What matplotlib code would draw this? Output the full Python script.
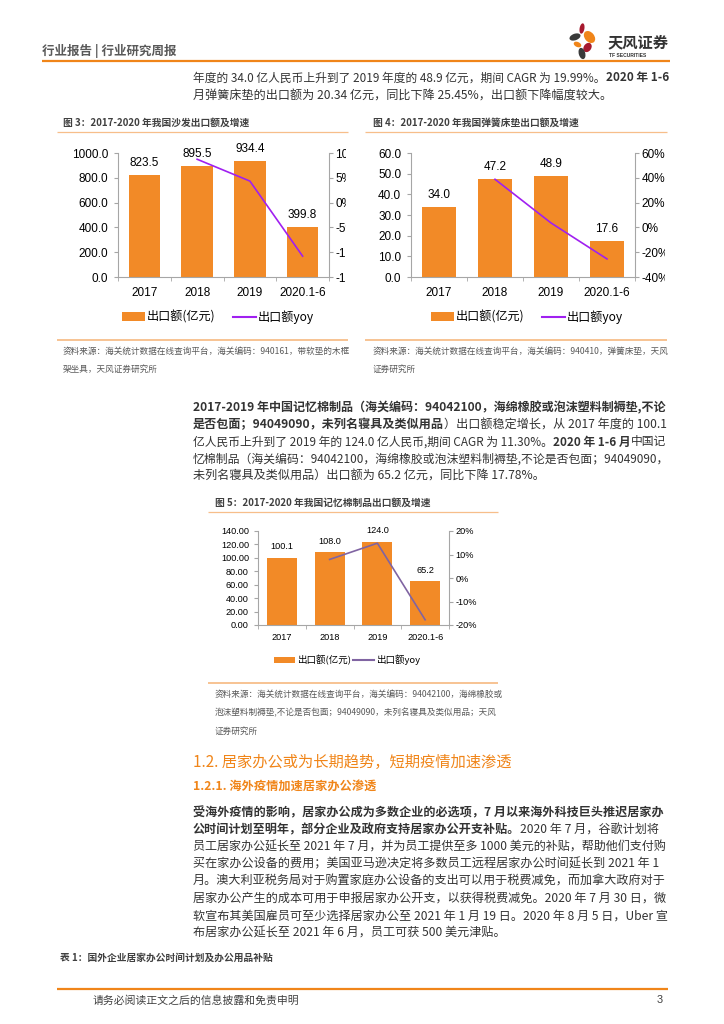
import matplotlib
matplotlib.use('Agg')
import matplotlib.pyplot as plt
from matplotlib.patches import Ellipse, Patch
from matplotlib.lines import Line2D
from matplotlib.ticker import FuncFormatter
from matplotlib.transforms import Bbox, TransformedBbox
import numpy as np

W, H = 724, 1024
CJK = ['Noto Sans CJK SC', 'DejaVu Sans']
plt.rcParams['font.family'] = ['Liberation Sans', 'Noto Sans CJK SC', 'DejaVu Sans']

# ---------------- data ----------------
categories = ['2017', '2018', '2019', '2020.1-6']
sofa_values = [823.5, 895.5, 934.4, 399.8]
sofa_yoy = [np.nan, 8.74, 4.34, -10.8]
spring_values = [34.0, 47.2, 48.9, 17.6]
spring_yoy = [np.nan, 38.8, 3.6, -25.45]
memory_values = [100.1, 108.0, 124.0, 65.2]
memory_yoy = [np.nan, 7.9, 14.8, -17.78]
bar_label = '出口额(亿元)'
line_label = '出口额yoy'

sofa_y2_ticks = [-15, -10, -5, 0, 5, 10]
spring_y2_ticks = [-40, -20, 0, 20, 40, 60]
memory_y2_ticks = [-20, -10, 0, 10, 20]

title3 = '图 3：2017-2020 年我国沙发出口额及增速'
title4 = '图 4：2017-2020 年我国弹簧床垫出口额及增速'
title5 = '图 5：2017-2020 年我国记忆棉制品出口额及增速'
source3 = ['资料来源：海关统计数据在线查询平台，海关编码：940161，带软垫的木框', '架坐具，天风证券研究所']
source4 = ['资料来源：海关统计数据在线查询平台，海关编码：940410，弹簧床垫，天风', '证券研究所']
source5 = ['资料来源：海关统计数据在线查询平台，海关编码：94042100，海绵橡胶或',
           '泡沫塑料制褥垫,不论是否包面；94049090，未列名寝具及类似用品；天风',
           '证券研究所']

para1 = [
    [("年度的 34.0 亿人民币上升到了 2019 年度的 48.9 亿元，期间 CAGR 为 19.99%。", False), ("2020 年 1-6", True)],
    [("月弹簧床垫的出口额为 20.34 亿元，同比下降 25.45%，出口额下降幅度较大。", False)],
]
para2 = [
    [("2017-2019 年中国记忆棉制品（海关编码：94042100，海绵橡胶或泡沫塑料制褥垫,不论", True)],
    [("是否包面；94049090，未列名寝具及类似用品", True), ("）出口额稳定增长，从 2017 年度的 100.1", False)],
    [("亿人民币上升到了 2019 年的 124.0 亿人民币,期间 CAGR 为 11.30%。", False), ("2020 年 1-6 月", True), ("中国记", False)],
    [("忆棉制品（海关编码：94042100，海绵橡胶或泡沫塑料制褥垫,不论是否包面；94049090，", False)],
    [("未列名寝具及类似用品）出口额为 65.2 亿元，同比下降 17.78%。", False)],
]
para3 = [
    [("受海外疫情的影响，居家办公成为多数企业的必选项，7 月以来海外科技巨头推迟居家办", True)],
    [("公时间计划至明年，部分企业及政府支持居家办公开支补贴。", True), ("2020 年 7 月，谷歌计划将", False)],
    [("员工居家办公延长至 2021 年 7 月，并为员工提供至多 1000 美元的补贴，帮助他们支付购", False)],
    [("买在家办公设备的费用；美国亚马逊决定将多数员工远程居家办公时间延长到 2021 年 1", False)],
    [("月。澳大利亚税务局对于购置家庭办公设备的支出可以用于税费减免，而加拿大政府对于", False)],
    [("居家办公产生的成本可用于申报居家办公开支，以获得税费减免。2020 年 7 月 30 日，微", False)],
    [("软宣布其美国雇员可至少选择居家办公至 2021 年 1 月 19 日。2020 年 8 月 5 日，Uber 宣", False)],
    [("布居家办公延长至 2021 年 6 月，员工可获 500 美元津贴。", False)],
]

ORANGE = '#F08519'
LIGHT_OR = '#F7BE8A'
BAR = '#F28A27'
GRAY_AX = '#A6A6A6'
TXT = '#333333'

fig = plt.figure(figsize=(W / 100, H / 100), dpi=100)
bg = fig.add_axes([0, 0, 1, 1], zorder=-5)
bg.set_xlim(0, W)
bg.set_ylim(H, 0)
bg.axis('off')
renderer = fig.canvas.get_renderer()


def hline(x0, x1, y, color, lw):
    bg.plot([x0, x1], [y, y], color=color, lw=lw, solid_capstyle='butt')


def txt(x, y, s, **kw):
    kw.setdefault('va', 'center')
    kw.setdefault('ha', 'left')
    return bg.text(x, y, s, **kw)


def rich_line(x, y, segs, size=8.7, color=TXT, maxw=476):
    def draw(sz):
        cx = x
        made = []
        for s, b in segs:
            t = txt(cx, y, s, fontsize=sz, fontweight='bold' if b else 'normal',
                    color=color, family=CJK)
            bb = t.get_window_extent(renderer=renderer)
            cx += bb.width
            made.append(t)
        return made, cx - x
    made, width = draw(size)
    if width > maxw:
        for t in made:
            t.remove()
        draw(size * maxw / width)


# ---------------- header ----------------
txt(42, 51, '行业报告 | 行业研究周报', fontsize=9, fontweight='bold', color='#595959', family=CJK)
hline(42, 670, 61, ORANGE, 1.6)
petals = [  # (cx, cy, w, h, angle, color)
    (582, 28.5, 4.8, 10.5, 10, '#A6192E'),
    (589.5, 37, 9.5, 13.5, -40, ORANGE),
    (575, 37, 11.5, 6.5, -20, '#3A3A3A'),
    (577.5, 44.5, 8, 5, 25, ORANGE),
    (587.5, 47.5, 7.5, 10, 35, '#A6192E'),
    (582, 53.5, 6.5, 11.5, -15, '#3A3A3A'),
]
for cx, cy, w, h, a, c in petals:
    bg.add_patch(Ellipse((cx, cy), w, h, angle=a, color=c, lw=0))
txt(608, 42, '天风证券', fontsize=11, fontweight='bold', color='#333333', family=CJK)
txt(609, 55.5, 'TF SECURITIES', fontsize=3.6, fontweight='bold', color='#333333')

# ---------------- paragraphs ----------------
for i, segs in enumerate(para1):
    rich_line(193, 78 + 18 * i, segs)
for i, segs in enumerate(para2):
    rich_line(193, 408 + 17 * i, segs)
for i, segs in enumerate(para3):
    rich_line(193, 813 + 17.1 * i, segs)

txt(193, 762, '1.2. 居家办公或为长期趋势，短期疫情加速渗透', fontsize=11, color=ORANGE, family=CJK)
txt(193, 787, '1.2.1. 海外疫情加速居家办公渗透', fontsize=8.8, fontweight='bold', color=ORANGE, family=CJK)
txt(60, 958, '表 1：国外企业居家办公时间计划及办公用品补贴', fontsize=7, fontweight='bold', color='#404040', family=CJK)
hline(57, 668, 989, ORANGE, 1.6)
txt(93, 1000, '请务必阅读正文之后的信息披露和免责申明', fontsize=7.8, color='#404040', family=CJK)
txt(663, 1000, '3', fontsize=7.8, color='#404040', ha='right')


# ---------------- charts ----------------
def chart(box, values, yoy, ylim, ystep, yfmt, y2ticks, line_color, barw, fs,
          lab_gap, cat_pad, ypad, clip_right, leg_xc, leg_y, leg_fs, handlelen, colsp):
    left, right, top, bottom = box
    ax = fig.add_axes([left / W, 1 - bottom / H, (right - left) / W, (bottom - top) / H])
    ax.set_facecolor('none')
    x = np.arange(len(categories))
    ax.bar(x, values, width=barw, color=BAR, zorder=2)
    for xi, v in zip(x, values):
        ax.annotate(f'{v:.1f}', (xi, v), xytext=(0, lab_gap * 0.72), textcoords='offset points',
                    ha='center', va='center', fontsize=fs, color='#000000')
    ax.set_xlim(-0.5, len(categories) - 0.5)
    ax.set_ylim(*ylim)
    ax.set_yticks(np.arange(ylim[0], ylim[1] + ystep / 2, ystep))
    ax.yaxis.set_major_formatter(FuncFormatter(lambda v, p: yfmt.format(v)))
    ax.set_xticks(x)
    ax.set_xticklabels(categories)
    ax.set_xticks(np.arange(-0.5, len(categories)), minor=True)
    ax.tick_params(axis='x', which='major', length=0, pad=cat_pad, labelsize=fs)
    ax.tick_params(axis='x', which='minor', length=3, color=GRAY_AX, direction='out')
    ax.tick_params(axis='y', length=3, color=GRAY_AX, direction='out', pad=ypad, labelsize=fs)
    for s in ['top', 'right']:
        ax.spines[s].set_visible(False)
    for s in ['left', 'bottom']:
        ax.spines[s].set_color(GRAY_AX)
        ax.spines[s].set_linewidth(0.8)

    ax2 = ax.twinx()
    ax2.set_facecolor('none')
    ax2.plot(x, yoy, color=line_color, lw=1.2, zorder=3)
    ax2.set_ylim(y2ticks[0], y2ticks[-1])
    ax2.set_yticks(y2ticks)
    ax2.set_yticklabels([f'{t}%' for t in y2ticks])
    ax2.tick_params(axis='y', length=3, color=GRAY_AX, direction='out', pad=1.5, labelsize=fs)
    for s in ['top', 'left', 'bottom']:
        ax2.spines[s].set_visible(False)
    ax2.spines['right'].set_color(GRAY_AX)
    ax2.spines['right'].set_linewidth(0.8)
    if clip_right is not None:
        cb = TransformedBbox(Bbox.from_extents(0, 0, clip_right / W, 1), fig.transFigure)
        for t in ax2.yaxis.get_major_ticks():
            t.label2.set_clip_box(cb)
            t.label2.set_clip_on(True)

    handles = [Patch(facecolor=BAR, edgecolor='none'), Line2D([], [], color=line_color, lw=1.5)]
    fig.legend(handles, [bar_label, line_label], loc='center',
               bbox_to_anchor=(leg_xc / W, 1 - leg_y / H), ncol=2, frameon=False,
               prop={'family': CJK, 'size': leg_fs}, handlelength=handlelen,
               handletextpad=0.2, columnspacing=colsp, borderaxespad=0, borderpad=0)
    return ax, ax2


def chart_frame(x0, x1, tx, ty, title, uy, sy, src, src_y0, src_dy):
    txt(tx, ty, title, fontsize=7, fontweight='bold', color='#404040', family=CJK)
    hline(x0, x1, uy, LIGHT_OR, 0.9)
    hline(x0, x1, sy, LIGHT_OR, 1.3)
    for i, s in enumerate(src):
        txt(tx, src_y0 + src_dy * i, s, fontsize=6.2, color='#595959', family=CJK)


chart_frame(57, 348, 63, 123, title3, 132, 340, source3, 351, 18)
chart((118, 329, 153, 277), sofa_values, sofa_yoy, (0, 1000), 200, '{:.1f}', sofa_y2_ticks,
      '#A020F0', 0.6, 8.5, 12, 7, 4, 346, 218, 317, 8.7, 1.9, 1.4)

chart_frame(365, 667, 373, 123, title4, 132, 340, source4, 351, 18)
chart((411, 635, 153, 277), spring_values, spring_yoy, (0, 60), 10, '{:.1f}', spring_y2_ticks,
      '#A020F0', 0.62, 8.5, 12, 7, 4, 665, 527, 317, 8.7, 1.9, 1.4)

chart_frame(208, 498, 215, 503, title5, 512, 683, source5, 694, 18.5)
chart((258, 449, 531, 625), memory_values, memory_yoy, (0, 140), 20, '{:.2f}', memory_y2_ticks,
      '#8064A2', 0.63, 6.6, 11, 6, 3.5, None, 347, 660, 6.8, 2.2, 0.3)

fig.savefig('out.png', dpi=100)
